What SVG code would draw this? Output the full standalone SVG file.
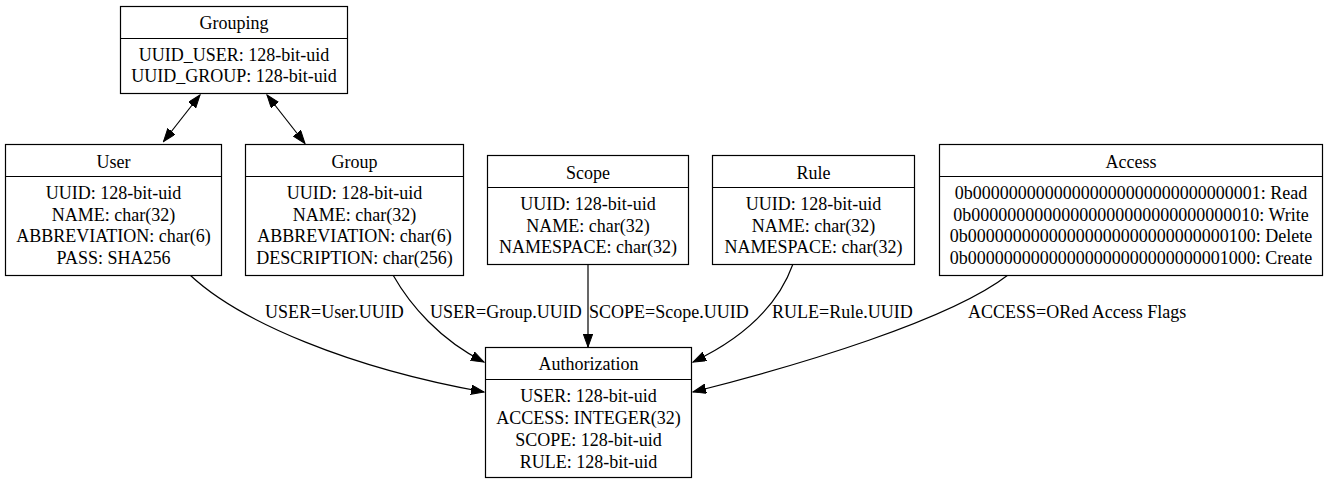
<svg xmlns="http://www.w3.org/2000/svg" width="1328" height="484" viewBox="0 0 1328 484">
<style>
text{font-family:"Liberation Serif","Times New Roman",serif;font-size:18px;fill:#000;text-anchor:middle}
.lbl{text-anchor:start}
.box{fill:#fff;stroke:#000;stroke-width:1.2}
.div{stroke:#000;stroke-width:1.2}
.edge{fill:none;stroke:#000;stroke-width:1.2}
</style>
<defs>
<marker id="ah" markerUnits="userSpaceOnUse" markerWidth="14" markerHeight="10" refX="13" refY="4.7" orient="auto-start-reverse">
<path d="M0,0 L13,4.7 L0,9.4 Z" fill="#000" stroke="#000" stroke-width="1"/>
</marker>
</defs>
<rect width="1328" height="484" fill="#fff"/>
<g id="connectors">
<path class="edge" d="M200,95 L163.5,141.5" marker-start="url(#ah)" marker-end="url(#ah)"/>
<path class="edge" d="M267,95 L305,143.5" marker-start="url(#ah)" marker-end="url(#ah)"/>
<path class="edge" d="M190,275 C240,322 350,368 484,392" marker-end="url(#ah)"/>
<path class="edge" d="M393,275 C410,305 440,340 484,362" marker-end="url(#ah)"/>
<path class="edge" d="M588,264 L588,347" marker-end="url(#ah)"/>
<path class="edge" d="M793,264 C780,300 750,335 693,362" marker-end="url(#ah)"/>
<path class="edge" d="M1008,275 C950,320 800,365 693,392" marker-end="url(#ah)"/>
<text class="lbl" x="265" y="318">USER=User.UUID</text>
<text class="lbl" x="430" y="318">USER=Group.UUID</text>
<text class="lbl" x="589" y="318">SCOPE=Scope.UUID</text>
<text class="lbl" x="772" y="318">RULE=Rule.UUID</text>
<text class="lbl" x="968" y="318">ACCESS=ORed Access Flags</text>
</g>
<g id="grouping">
<rect class="box" x="120.5" y="6.5" width="227" height="87"/>
<line class="div" x1="120.5" y1="38.5" x2="347.5" y2="38.5"/>
<text x="234" y="29">Grouping</text>
<text x="234" y="61">UUID_USER: 128-bit-uid</text>
<text x="234" y="82">UUID_GROUP: 128-bit-uid</text>
</g>
<g id="user">
<rect class="box" x="5.5" y="144.5" width="216" height="131"/>
<line class="div" x1="5.5" y1="176.5" x2="221.5" y2="176.5"/>
<text x="113.5" y="168">User</text>
<text x="113.5" y="199">UUID: 128-bit-uid</text>
<text x="113.5" y="221">NAME: char(32)</text>
<text x="113.5" y="242">ABBREVIATION: char(6)</text>
<text x="113.5" y="264">PASS: SHA256</text>
</g>
<g id="group">
<rect class="box" x="245.5" y="144.5" width="218" height="131"/>
<line class="div" x1="245.5" y1="176.5" x2="463.5" y2="176.5"/>
<text x="354.5" y="168">Group</text>
<text x="354.5" y="199">UUID: 128-bit-uid</text>
<text x="354.5" y="221">NAME: char(32)</text>
<text x="354.5" y="242">ABBREVIATION: char(6)</text>
<text x="354.5" y="264">DESCRIPTION: char(256)</text>
</g>
<g id="scope">
<rect class="box" x="487.5" y="155.5" width="201" height="109"/>
<line class="div" x1="487.5" y1="187.5" x2="688.5" y2="187.5"/>
<text x="588" y="179">Scope</text>
<text x="588" y="210">UUID: 128-bit-uid</text>
<text x="588" y="232">NAME: char(32)</text>
<text x="588" y="253">NAMESPACE: char(32)</text>
</g>
<g id="rule">
<rect class="box" x="712.5" y="155.5" width="202" height="109"/>
<line class="div" x1="712.5" y1="187.5" x2="914.5" y2="187.5"/>
<text x="813.5" y="179">Rule</text>
<text x="813.5" y="210">UUID: 128-bit-uid</text>
<text x="813.5" y="232">NAME: char(32)</text>
<text x="813.5" y="253">NAMESPACE: char(32)</text>
</g>
<g id="access">
<rect class="box" x="939.5" y="144.5" width="383" height="131"/>
<line class="div" x1="939.5" y1="176.5" x2="1322.5" y2="176.5"/>
<text x="1131" y="168">Access</text>
<text x="1131" y="199">0b00000000000000000000000000000001: Read</text>
<text x="1131" y="221">0b00000000000000000000000000000010: Write</text>
<text x="1131" y="242">0b00000000000000000000000000000100: Delete</text>
<text x="1131" y="264">0b00000000000000000000000000001000: Create</text>
</g>
<g id="authorization">
<rect class="box" x="485.5" y="347.5" width="206" height="130"/>
<line class="div" x1="485.5" y1="379.5" x2="691.5" y2="379.5"/>
<text x="588.5" y="370">Authorization</text>
<text x="588.5" y="402">USER: 128-bit-uid</text>
<text x="588.5" y="424">ACCESS: INTEGER(32)</text>
<text x="588.5" y="446">SCOPE: 128-bit-uid</text>
<text x="588.5" y="468">RULE: 128-bit-uid</text>
</g>
</svg>
